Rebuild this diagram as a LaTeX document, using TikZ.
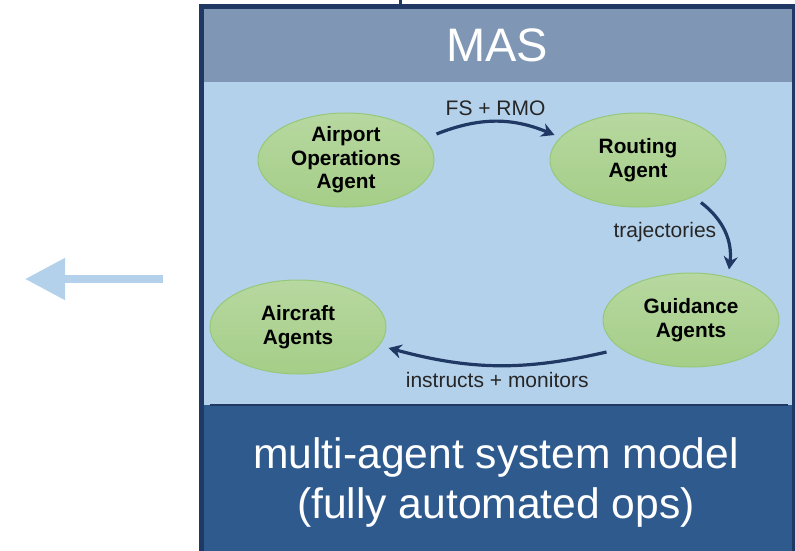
\documentclass[tikz,border=0pt]{standalone}
\usepackage{fontspec}
\setmainfont{Liberation Sans}
\usepackage{tikz}
\usetikzlibrary{shapes.geometric,arrows.meta}
\definecolor{masframe}{HTML}{203864}
\definecolor{mashead}{HTML}{7F97B5}
\definecolor{maslight}{HTML}{B4D1EC}
\definecolor{masband}{HTML}{2F5A8E}
\definecolor{agentfill}{HTML}{A5CE88}
\definecolor{agentedge}{HTML}{96C879}
\def\magentw{176}
\def\magenth{94}
\tikzset{
	agent/.style={ellipse, draw=agentedge, line width=1pt, top color=agentfill!80!white, bottom color=agentfill, minimum width=\magentw pt, minimum height=\magenth pt, inner sep=0pt, align=center, font=\fontsize{20.8}{23.5}\selectfont\bfseries},
	flow/.style={-{Stealth[length=13pt,width=14pt]}, line width=3.2pt, draw=masframe},
	flowlabel/.style={font=\fontsize{21}{24}\selectfont, text=black!85, inner sep=2pt},
}

\begin{document}
\begin{tikzpicture}[x=1pt, y=-1pt]
		\useasboundingbox (0,0) rectangle (795,550);
		\clip (0,0) rectangle (795,550);
		\fill[maslight] (201,82) rectangle (794,405);
		\fill[mashead] (201,6) rectangle (794,82);
		\fill[masband] (201,405) rectangle (794,556);
		\draw[masframe, line width=1.5pt] (210,405) -- (788,405);
		\node[text=white, font=\fontsize{47}{47}\selectfont] (mastitle) at (497,45) {MAS};
		\node[text=white, align=center, font=\fontsize{42.6}{50}\selectfont] (masmodel) at (496,482) {multi-agent system model\\(fully automated ops)};
		% Outer frame
		\draw[masframe, line width=5pt] (201,6) rectangle (794,556);
		\coordinate (masin) at (400,0);
		\draw[masframe, line width=3pt] (masin) -- (400,6);
		\coordinate (outtail) at (163,279);
		\coordinate (outtip) at (25,279);
		\draw[maslight, line width=8pt, -{Triangle[length=40pt,width=40pt]}] (outtail) -- (outtip);
		\node[agent] (airport) at (346,160) {Airport\\Operations\\Agent};
		\node[agent] (routing) at (638,160) {Routing\\Agent};
		\node[agent] (guidance) at (691,320) {Guidance\\Agents};
		\node[agent] (aircraft) at (298,327) {Aircraft\\Agents};
		\draw[flow] ([shift={(2,-26)}]airport.east) to[bend left=22] node[flowlabel, above=2pt] {FS + RMO} ([shift={(5,-25)}]routing.west);
		\draw[flow] ([shift={(63,-5)}]routing.south) to[bend left=30] node[flowlabel, left=5pt] {trajectories} ([shift={(38,-3)}]guidance.north);
		\draw[flow] ([shift={(4,32)}]guidance.west) to[bend left=14] node[flowlabel, below=3pt] {instructs + monitors} ([shift={(2,21)}]aircraft.east);
	\end{tikzpicture}
\end{document}
